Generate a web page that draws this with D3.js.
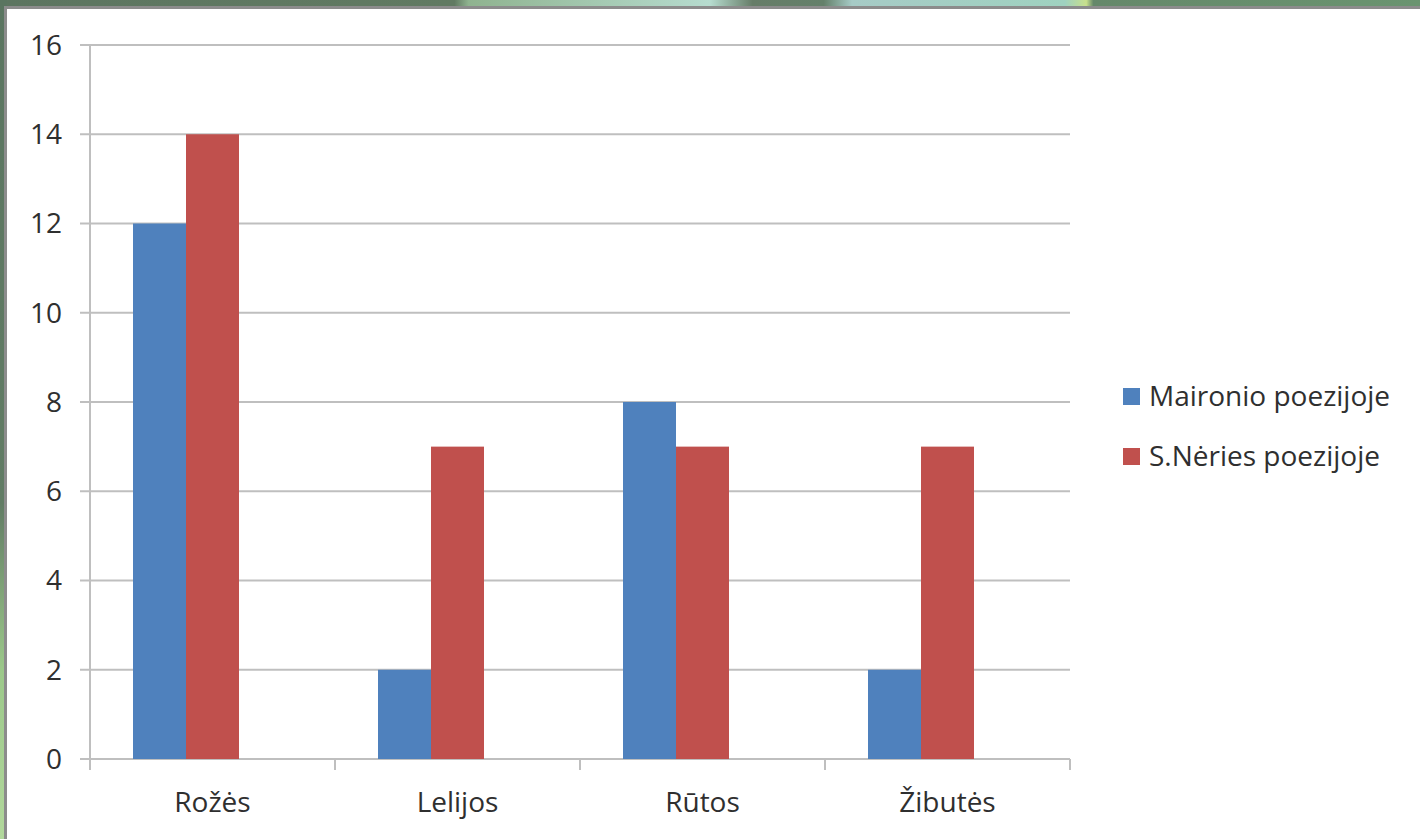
<!DOCTYPE html>
<html>
<head>
<meta charset="utf-8">
<script src="https://cdn.jsdelivr.net/npm/d3@7"></script>
<style>
  html, body { margin: 0; padding: 0; overflow: hidden; }
  text { font-family: "Open Sans", Lato, sans-serif; fill: #2f2f2f; }
</style>
</head>
<body>
<div id="chart"></div>
<script>
const categories = ["Rožės", "Lelijos", "Rūtos", "Žibutės"];
const seriesNames = ["Maironio poezijoje", "S.Nėries poezijoje"];
const maironio = [12, 2, 8, 2];
const neries = [14, 7, 7, 7];
const yTicks = [0, 2, 4, 6, 8, 10, 12, 14, 16];

const colors = {
    blue: "#4f81bd",
    red: "#c0504d",
    grid: "#bfbfbf",
    frame: "#8c8c8c"
};

const W = 1420, H = 839;
const plot = { left: 90, right: 1070, top: 45, bottom: 759 };
const fontSize = 28;

const svg = d3.select("#chart")
              .append("svg")
              .attr("width", W)
              .attr("height", H);

// green slide background behind the chart
const defs = svg.append("defs");
const bgGrad = defs.append("linearGradient")
                   .attr("id", "bgTop")
                   .attr("x1", 0).attr("x2", 1).attr("y1", 0).attr("y2", 0);
[[0, "#5c7560"], [0.32, "#617a62"], [0.33, "#8fb38f"], [0.5, "#b6dccf"],
 [0.53, "#667d68"], [0.58, "#64806a"], [0.6, "#a6cbc6"], [0.75, "#9fd2c0"],
 [0.765, "#c8e08c"], [0.77, "#65886a"], [1, "#6a9470"]].forEach(s => {
    bgGrad.append("stop").attr("offset", s[0]).attr("stop-color", s[1]);
});
const leftGrad = defs.append("linearGradient")
                     .attr("id", "bgLeft")
                     .attr("x1", 0).attr("x2", 0).attr("y1", 0).attr("y2", 1);
[[0, "#5a7560"], [0.6, "#617c64"], [0.8, "#9cc98a"], [1, "#b2d89c"]].forEach(s => {
    leftGrad.append("stop").attr("offset", s[0]).attr("stop-color", s[1]);
});

svg.append("rect").attr("width", W).attr("height", 9).attr("fill", "url(#bgTop)");
svg.append("rect").attr("width", 7).attr("height", H).attr("fill", "url(#bgLeft)");

// white chart area with its grey frame
svg.append("rect")
   .attr("x", 5.5).attr("y", 7.5)
   .attr("width", W).attr("height", H)
   .attr("fill", "#ffffff")
   .attr("stroke", colors.frame)
   .attr("stroke-width", 3);

const y = d3.scaleLinear()
            .domain([0, 16])
            .range([plot.bottom, plot.top]);

const x0 = d3.scaleBand()
             .domain(categories)
             .range([plot.left, plot.right]);

// third (empty) slot keeps the bars left of the category centre, as in the original
const x1 = d3.scaleBand()
             .domain([...seriesNames, ""])
             .range([43, x0.bandwidth() - 43]);

// gridlines
svg.append("g")
   .selectAll("line")
   .data(yTicks)
   .join("line")
   .attr("x1", plot.left - 10)
   .attr("x2", plot.right)
   .attr("y1", d => y(d))
   .attr("y2", d => y(d))
   .attr("stroke", colors.grid)
   .attr("stroke-width", 2);

// y axis line
svg.append("line")
   .attr("x1", plot.left).attr("x2", plot.left)
   .attr("y1", plot.top).attr("y2", plot.bottom + 11)
   .attr("stroke", colors.grid)
   .attr("stroke-width", 2);

// y labels
svg.append("g")
   .selectAll("text")
   .data(yTicks)
   .join("text")
   .attr("x", 62)
   .attr("y", d => y(d))
   .attr("dy", "0.35em")
   .attr("text-anchor", "end")
   .attr("font-size", fontSize)
   .text(d => d);

// x axis tick marks at category boundaries
const bounds = categories.map(c => x0(c)).concat([plot.right]);
svg.append("g")
   .selectAll("line")
   .data(bounds)
   .join("line")
   .attr("x1", d => d).attr("x2", d => d)
   .attr("y1", plot.bottom).attr("y2", plot.bottom + 11)
   .attr("stroke", colors.grid)
   .attr("stroke-width", 2);

// bars
const rows = categories.map((c, i) => ({
    cat: c,
    vals: [
        { name: seriesNames[0], value: maironio[i], color: colors.blue },
        { name: seriesNames[1], value: neries[i], color: colors.red }
    ]
}));

svg.append("g")
   .selectAll("g")
   .data(rows)
   .join("g")
   .attr("transform", d => `translate(${x0(d.cat)},0)`)
   .selectAll("rect")
   .data(d => d.vals)
   .join("rect")
   .attr("x", d => x1(d.name))
   .attr("width", x1.bandwidth())
   .attr("y", d => y(d.value))
   .attr("height", d => y(0) - y(d.value))
   .attr("fill", d => d.color);

// category labels
svg.append("g")
   .selectAll("text")
   .data(categories)
   .join("text")
   .attr("x", d => x0(d) + x0.bandwidth() / 2)
   .attr("y", 812)
   .attr("text-anchor", "middle")
   .attr("font-size", fontSize)
   .text(d => d);

// legend
const legend = svg.append("g")
                  .selectAll("g")
                  .data([{ name: seriesNames[0], color: colors.blue },
                         { name: seriesNames[1], color: colors.red }])
                  .join("g")
                  .attr("transform", (d, i) => `translate(1123,${396 + i * 60})`);

legend.append("rect")
      .attr("x", 0).attr("y", -8)
      .attr("width", 17).attr("height", 17)
      .attr("fill", d => d.color);

legend.append("text")
      .attr("x", 26)
      .attr("dy", "0.35em")
      .attr("font-size", fontSize)
      .text(d => d.name);
</script>
</body>
</html>
